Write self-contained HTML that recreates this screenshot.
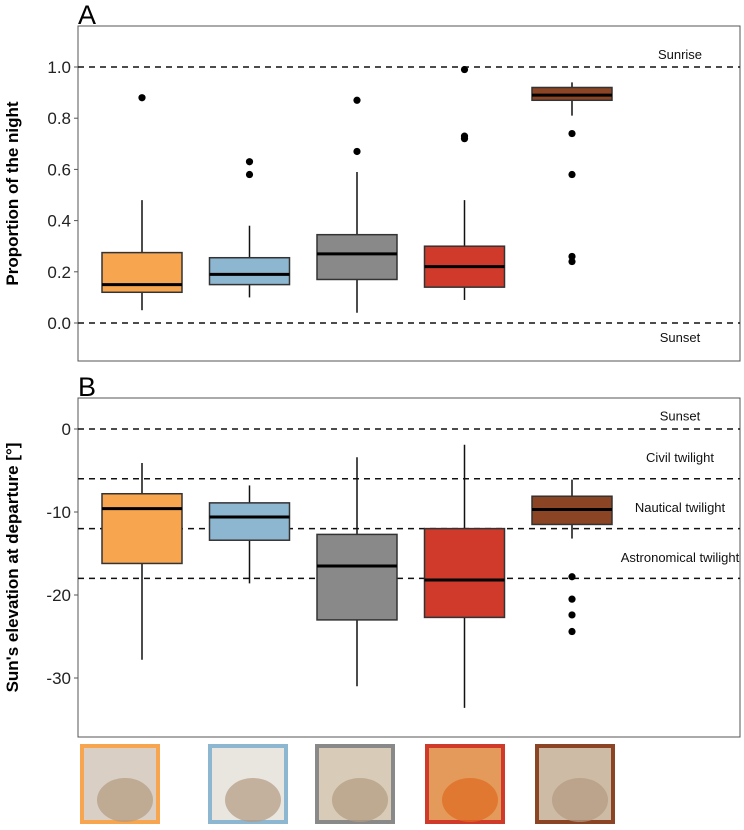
<!DOCTYPE html>
<html><head><meta charset="utf-8"><style>
html,body{margin:0;padding:0;background:#fff;}
svg{display:block;font-family:"Liberation Sans",sans-serif;}
</style></head><body>
<svg id="chart" width="744" height="830"></svg>
<script>
const speciesNames=["redstart","wheatear-pale","wheatear","robin","dunnock"];
const colors=["#F7A54E","#8DB6D0","#898989","#CF3A2A","#8B4525"];
// Panel A stats: [whiskerLow, q1, median, q3, whiskerHigh]
const statsA=[[0.05,0.12,0.15,0.275,0.48],[0.10,0.15,0.19,0.255,0.38],[0.04,0.17,0.27,0.345,0.59],[0.09,0.14,0.22,0.30,0.48],[0.81,0.87,0.89,0.92,0.94]];
const outliersA=[[0.88],[0.58,0.63],[0.67,0.87],[0.72,0.73,0.99],[0.74,0.58,0.26,0.24]];
const ticksA=[0,0.2,0.4,0.6,0.8,1.0];
const tickLabelsA=["0.0","0.2","0.4","0.6","0.8","1.0"];
const refA=[1.0,0.0];
const refLabelsA=["Sunrise","Sunset"];
// Panel B
const statsB=[[-27.8,-16.2,-9.6,-7.8,-4.1],[-18.6,-13.4,-10.6,-8.9,-6.8],[-31,-23,-16.5,-12.7,-3.4],[-33.6,-22.7,-18.2,-12,-1.9],[-13.2,-11.5,-9.7,-8.1,-6.1]];
const outliersB=[[],[],[],[],[-17.8,-20.5,-22.4,-24.4]];
const ticksB=[0,-10,-20,-30];
const tickLabelsB=["0","-10","-20","-30"];
const refB=[0,-6,-12,-18];
const zoneLabels=["Sunset","Civil twilight","Nautical twilight","Astronomical twilight"];
const zoneLabelVals=[1.6,-3.4,-9.4,-15.4];

const NS="http://www.w3.org/2000/svg";
const svg=document.getElementById('chart');
function mk(t,a,p){const e=document.createElementNS(NS,t);for(const k in a)e.setAttribute(k,a[k]);(p||svg).appendChild(e);return e;}
const xs=i=>142+i*107.5;
const bw=80;

function panel(cfg){
  const g=mk('g',{});
  
  
  const y=cfg.y;
  const fr=mk('rect',{x:78,y:cfg.top,width:662,height:cfg.bottom-cfg.top,fill:'none',stroke:'#555','stroke-width':1},g);
  
  const lt=mk('text',{x:78,y:cfg.top-2,'font-size':27},g);lt.textContent=cfg.letter;
  
  cfg.ticks.forEach((t,i)=>{
    const tl=mk('line',{x1:74,x2:78,y1:y(t),y2:y(t),stroke:'#555'},g);
    
    const tx=mk('text',{x:71,y:y(t)+6,'font-size':17,'text-anchor':'end',fill:'#222'},g);
    tx.textContent=cfg.tickLabels[i];
    
  });
  cfg.refs.forEach(r=>{
    const l=mk('line',{x1:78,x2:740,y1:y(r),y2:y(r),stroke:'#111','stroke-width':1.5,'stroke-dasharray':'6,5'},g);
    
  });
  cfg.labels.forEach(([txt,yy])=>{
    const t=mk('text',{x:680,y:yy,'font-size':13,'text-anchor':'middle',fill:'#111'},g);
    t.textContent=txt;
    
  });
  cfg.stats.forEach((s,i)=>{
    const x=xs(i);
    const w=mk('line',{x1:x,x2:x,y1:y(s[0]),y2:y(s[4]),stroke:'#111','stroke-width':1.5},g);
    
    const b=mk('rect',{x:x-bw/2,y:y(s[3]),width:bw,height:y(s[1])-y(s[3]),fill:colors[i],stroke:'#333','stroke-width':1.5},g);
    
    const m=mk('line',{x1:x-bw/2,x2:x+bw/2,y1:y(s[2]),y2:y(s[2]),stroke:'#000','stroke-width':3},g);
    
    cfg.outliers[i].forEach(o=>{
      const c=mk('circle',{cx:x,cy:y(o),r:3.6,fill:'#000'},g);
      
    });
  });
  const cy=(cfg.top+cfg.bottom)/2;
  const at=mk('text',{x:0,y:0,'font-size':17,'font-weight':'bold','text-anchor':'middle',transform:`translate(18,${cy}) rotate(-90)`},g);
  at.textContent=cfg.title;
  
}
const yA=v=>323-v*256;
panel({name:'panel-a',letter:'A',top:26,bottom:361,y:yA,ticks:ticksA,tickLabels:tickLabelsA,refs:refA,
  labels:[[refLabelsA[0],yA(refA[0])-8],[refLabelsA[1],yA(refA[1])+19]],stats:statsA,outliers:outliersA,title:'Proportion of the night'});
const yB=v=>429-v*8.3;
panel({name:'panel-b',letter:'B',top:398,bottom:737,y:yB,ticks:ticksB,tickLabels:tickLabelsB,refs:refB,
  labels:zoneLabels.map((t,i)=>[t,yB(zoneLabelVals[i])+5]),stats:statsB,outliers:outliersB,title:"Sun's elevation at departure [°]"});

// species image frames
const frameX=[80,208,315,425,535];
const fills=["#d9cfc4","#e9e6e0","#d8cbb8","#e39a5a","#cdbba5"];
frameX.forEach((fx,i)=>{
  const r=mk('rect',{x:fx+2,y:746,width:76,height:76,fill:fills[i],stroke:colors[i],'stroke-width':4});
  
  
  const h=mk('ellipse',{cx:fx+45,cy:800,rx:28,ry:22,fill:i==3?'#e06a20':'#b49a80',opacity:0.7});
  
  
});
</script>
</body></html>
